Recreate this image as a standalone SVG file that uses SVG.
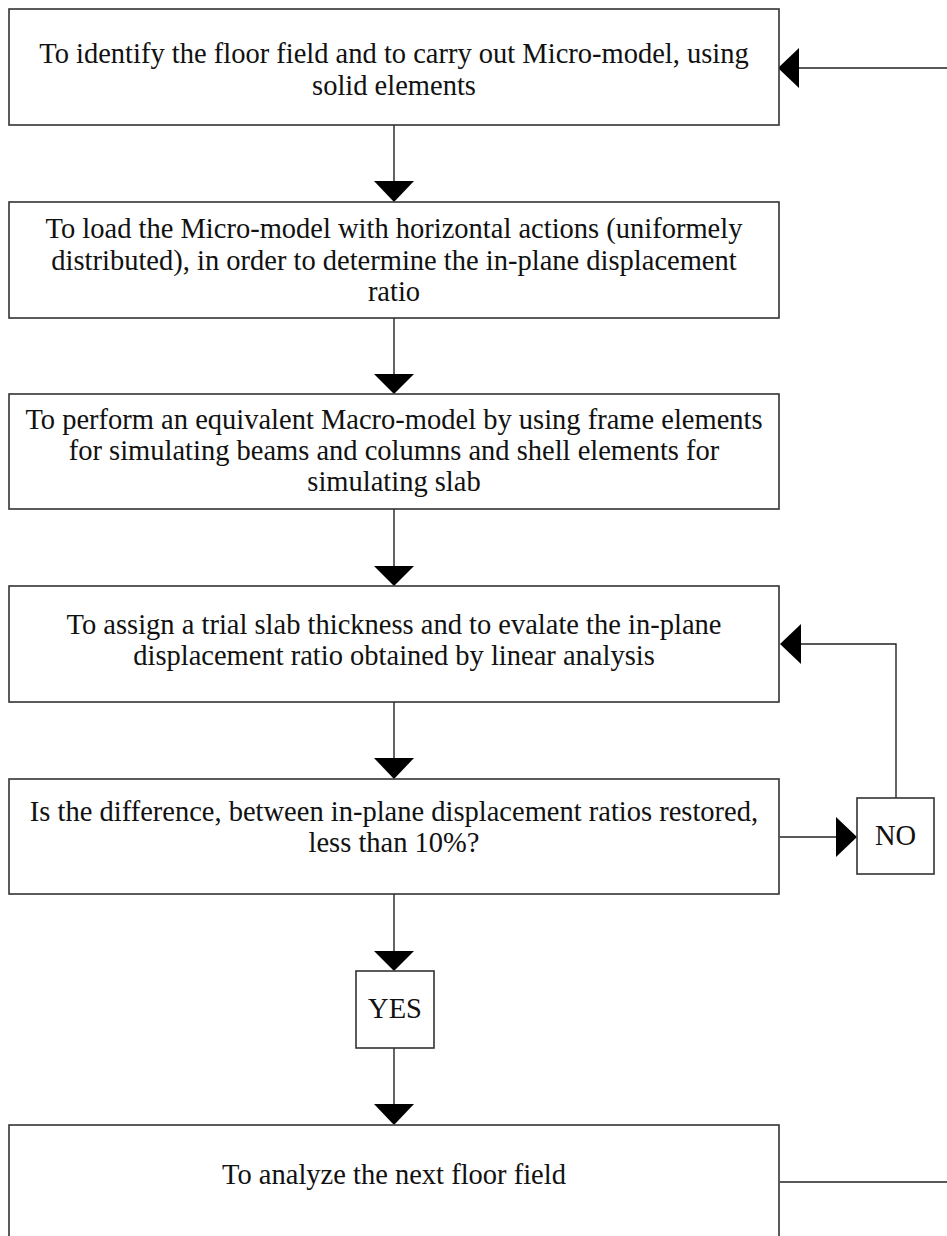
<svg xmlns="http://www.w3.org/2000/svg" width="947" height="1236" viewBox="0 0 947 1236">
<style>
.box{fill:#fff;stroke:#333;stroke-width:1.6}
.t{font-family:"Liberation Serif","Times New Roman",serif;font-size:28.5px;fill:#111;text-anchor:middle}
.ln{fill:none;stroke:#222;stroke-width:1.4}
.ah{fill:#000;stroke:none}
</style>
<rect width="947" height="1236" fill="#fff"/>
<g id="connectors">
<line class="ln" x1="394" y1="125" x2="394" y2="182"/>
<polygon class="ah" points="374,181 414,181 394,202"/>
<line class="ln" x1="394" y1="318" x2="394" y2="375"/>
<polygon class="ah" points="374,374 414,374 394,394"/>
<line class="ln" x1="394" y1="509" x2="394" y2="567"/>
<polygon class="ah" points="374,566 414,566 394,586"/>
<line class="ln" x1="394" y1="702" x2="394" y2="759"/>
<polygon class="ah" points="374,758 414,758 394,779"/>
<line class="ln" x1="394" y1="894" x2="394" y2="952"/>
<polygon class="ah" points="374,951 414,951 394,971"/>
<line class="ln" x1="394" y1="1048" x2="394" y2="1105"/>
<polygon class="ah" points="374,1104 414,1104 394,1125"/>
<line class="ln" x1="780" y1="837" x2="837" y2="837"/>
<polygon class="ah" points="836,817 836,857 857,837"/>
<polyline class="ln" points="896,798 896,644 800,644"/>
<polygon class="ah" points="801,624 801,664 780,644"/>
<line class="ln" x1="780" y1="1182" x2="947" y2="1182"/>
<line class="ln" x1="947" y1="68" x2="798" y2="68"/>
<polygon class="ah" points="799,48 799,88 778,68"/>
</g>
<g id="n1">
<rect class="box" x="9" y="9" width="770" height="116"/>
<text class="t" x="394" y="63">To identify the floor field and to carry out Micro-model, using</text>
<text class="t" x="394" y="95">solid elements</text>
</g>
<g id="n2">
<rect class="box" x="9" y="202" width="770" height="116"/>
<text class="t" x="394" y="238">To load the Micro-model with horizontal actions (uniformely</text>
<text class="t" x="394" y="270">distributed), in order to determine the in-plane displacement</text>
<text class="t" x="394" y="301">ratio</text>
</g>
<g id="n3">
<rect class="box" x="9" y="394" width="770" height="115"/>
<text class="t" x="394" y="429">To perform an equivalent Macro-model by using frame elements</text>
<text class="t" x="394" y="460">for simulating beams and columns and shell elements for</text>
<text class="t" x="394" y="491">simulating slab</text>
</g>
<g id="n4">
<rect class="box" x="9" y="586" width="770" height="116"/>
<text class="t" x="394" y="634">To assign a trial slab thickness and to evalate the in-plane</text>
<text class="t" x="394" y="665">displacement ratio obtained by linear analysis</text>
</g>
<g id="n5">
<rect class="box" x="9" y="779" width="770" height="115"/>
<text class="t" x="394" y="821">Is the difference, between in-plane displacement ratios restored,</text>
<text class="t" x="394" y="852">less than 10%?</text>
</g>
<g id="no">
<rect class="box" x="857" y="798" width="77" height="76"/>
<text class="t" x="895.5" y="845">NO</text>
</g>
<g id="yes">
<rect class="box" x="356" y="971" width="78" height="77"/>
<text class="t" x="395" y="1018">YES</text>
</g>
<g id="n6">
<rect class="box" x="9" y="1125" width="770" height="120"/>
<text class="t" x="394" y="1184">To analyze the next floor field</text>
</g>
</svg>
